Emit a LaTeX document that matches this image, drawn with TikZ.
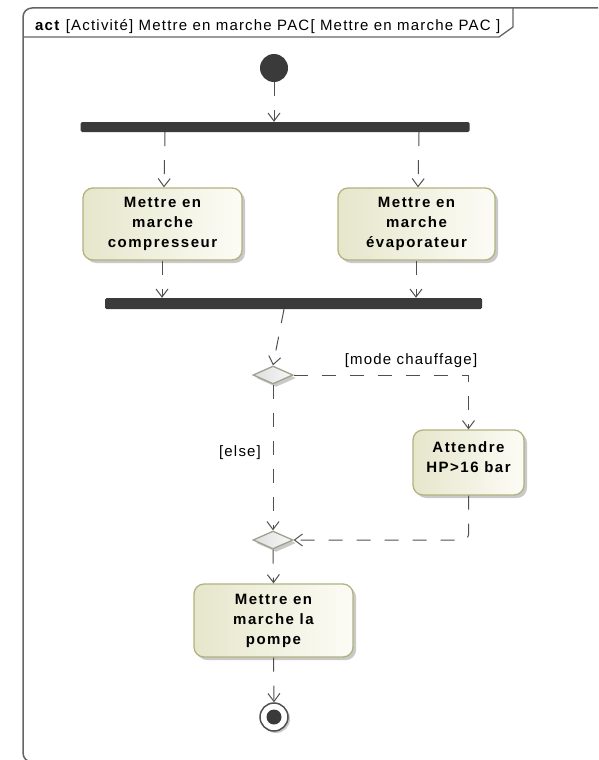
\documentclass[tikz,border=0pt]{standalone}
\usepackage{fontspec}
\setmainfont{Liberation Sans}
\newfontfamily\lblfont[LetterSpace=8]{Liberation Sans}
\newfontfamily\actfont[LetterSpace=10]{Liberation Sans}
\usetikzlibrary{shapes.geometric,arrows.meta,shadows}

\definecolor{linec}{RGB}{80,80,80}
\definecolor{framec}{RGB}{100,100,100}
\definecolor{barc}{RGB}{58,58,58}
\definecolor{boxborder}{RGB}{178,178,128}
\definecolor{boxL}{RGB}{230,230,204}
\definecolor{boxR}{RGB}{252,252,246}
\definecolor{decborder}{RGB}{160,160,140}
\definecolor{decL}{RGB}{222,222,222}
\definecolor{decR}{RGB}{248,248,248}

\tikzset{
  flow/.style={draw=linec, line width=1pt, dash pattern=on 14pt off 14pt,
    -{Straight Barb[length=8pt,width=12pt,line width=1pt]}},
  action/.style={rectangle, rounded corners=10pt, draw=boxborder, line width=1.3pt,
    left color=boxL, right color=boxR, align=center, inner sep=0pt,
    font=\actfont\bfseries\fontsize{15}{20}\selectfont,
    drop shadow={shadow xshift=3pt, shadow yshift=-3pt, opacity=0.3, fill=black!70}},
  acttext/.style={align=center, inner sep=0pt, font=\actfont\bfseries\fontsize{15}{20}\selectfont},
  decision/.style={diamond, draw=decborder, line width=1.3pt, inner sep=0pt,
    minimum width=40pt, minimum height=18pt, aspect=2.2,
    left color=decL, right color=decR,
    drop shadow={shadow xshift=3pt, shadow yshift=-3pt, opacity=0.3, fill=black!70}},
  bar/.style={rectangle, fill=barc, rounded corners=1.5pt, inner sep=0pt},
  guard/.style={font=\lblfont\fontsize{15}{16}\selectfont, inner sep=0pt},
}

\begin{document}
\begin{tikzpicture}[x=1pt,y=-1pt]
\useasboundingbox (0,0) rectangle (598,760);
\clip (0,0) rectangle (598,760);

% diagram frame with its name tab
\draw[framec, line width=1.5pt, rounded corners=9pt] (620,8) -- (23,8) -- (23,762) -- (620,762);
\draw[framec, line width=1.3pt] (23,37) -- (499,37) -- (513,27) -- (513,8);
\node[anchor=base west, inner sep=0pt, font=\lblfont\fontsize{15}{16}\selectfont]
  (title) at (35,31) {\textbf{act} [Activité] Mettre en marche PAC[ Mettre en marche PAC ]};

% initial and final nodes
\node[circle, fill=barc, minimum size=28pt, inner sep=0pt] (init) at (274,68) {};
\node[circle, draw=linec, fill=white, line width=1.5pt, minimum size=28pt, inner sep=0pt,
  drop shadow={shadow xshift=2pt, shadow yshift=-2pt, opacity=0.3, fill=black!70}] (final) at (274,717) {};
\node[circle, fill=barc, minimum size=15pt, inner sep=0pt] (finaldot) at (274,717) {};

% fork and join bars
\node[bar, minimum width=389pt, minimum height=10pt] (fork) at (275,127) {};
\node[bar, minimum width=377pt, minimum height=11pt] (join) at (293.5,303.5) {};

% actions
\node[action, minimum width=159pt, minimum height=72pt] (a1) at (162.5,224) {Mettre en\\marche\\compresseur};
\node[action, minimum width=157pt, minimum height=72pt] (a2) at (416.5,224) {Mettre en\\marche\\évaporateur};
\node[action, minimum width=111pt, minimum height=65pt] (a3) at (468.5,462.5) {};
\node[acttext] (a3text) at (468.5,457) {Attendre\\HP>16 bar};
\node[action, minimum width=159pt, minimum height=73pt] (a4) at (273.5,620.5) {Mettre en\\marche la\\pompe};

% decision and merge
\node[decision] (dec) at (273,375) {};
\node[decision] (merge) at (273,540) {};

% control flows
\draw[flow] (init.south) -- (init.south |- fork.north);
\draw[flow] (fork.south -| 165,0) -- (a1.north -| 164,0);
\draw[flow] (fork.south -| 419,0) -- (a2.north -| 418,0);
\draw[flow] (a1.south -| 162,0) -- (join.north -| 162,0);
\draw[flow] (a2.south -| 416,0) -- (join.north -| 416,0);
\draw[flow] (join.south -| 284,0) -- (dec.north);
\draw[flow] (dec.east) -- (dec.east -| a3.north) -- (a3.north);
\draw[flow] (dec.south) -- (merge.north);
\draw[flow, rounded corners=5pt] (a3.south) -- (a3.south |- merge.east) -- (merge.east);
\draw[flow] (merge.south) -- (a4.north);
\draw[flow] (a4.south) -- (final.north);

% guards
\node[guard] (gheat) at (411,361) {[mode chauffage]};
\node[guard] (gelse) at (240,453) {[else]};
\end{tikzpicture}
\end{document}
